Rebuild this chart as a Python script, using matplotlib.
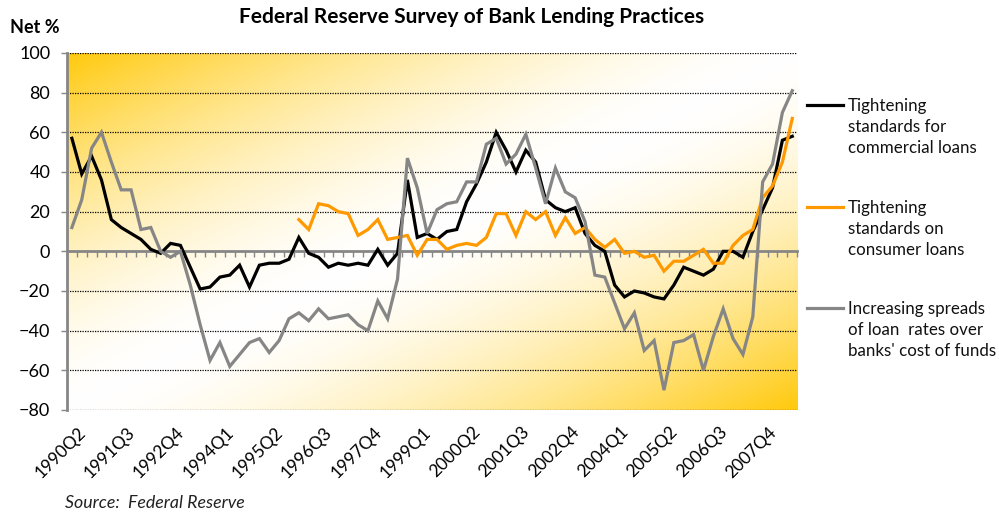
import numpy as np
import matplotlib
matplotlib.use('Agg')
import matplotlib.pyplot as plt
import matplotlib.transforms as mtransforms
from matplotlib.lines import Line2D

plt.rcParams['font.family'] = ['Lato', 'DejaVu Sans']

# quarterly survey readings, 1990Q2 .. 2008Q3 (net % of banks)
commercial = [57, 39, 48, 36, 16, 12, 9, 6, 1, -1, 4, 3, -8, -19, -18, -13, -12, -7,
              -18, -7, -6, -6, -4, 7, -1, -3, -8, -6, -7, -6, -7, 1, -7, -1, 36, 7,
              9, 6, 10, 11, 25, 34, 45, 60, 51, 40, 51, 45, 26, 22, 20, 22, 9, 3,
              0, -17, -23, -20, -21, -23, -24, -17, -8, -10, -12, -9, 0, 0, -3, 10,
              21, 32, 56, 58]
consumer = [None] * 23 + [16, 11, 24, 23, 20, 19, 8, 11, 16, 6, 7, 8, -2, 6, 6, 1, 3,
                          4, 3, 7, 19, 19, 8, 20, 16, 20, 8, 17, 9, 12, 6, 2, 6, -1, 0,
                          -3, -2, -10, -5, -5, -2, 1, -6, -6, 3, 8, 11, 27, 33, 45, 67]
spreads = [12, 26, 52, 60, 45, 31, 31, 11, 12, 0, -3, 0, -17, -37, -55, -46, -58, -52,
           -46, -44, -51, -45, -34, -31, -35, -29, -34, -33, -32, -37, -40, -25, -34,
           -14, 47, 32, 9, 21, 24, 25, 35, 35, 54, 57, 44, 49, 59, 42, 24, 42, 30, 27,
           15, -12, -13, -26, -39, -31, -50, -45, -70, -46, -45, -42, -60, -43, -29,
           -44, -52, -33, 35, 44, 70, 81]

tick_labels = ['1990Q2', '1991Q3', '1992Q4', '1994Q1', '1995Q2', '1996Q3', '1997Q4',
               '1999Q1', '2000Q2', '2001Q3', '2002Q4', '2004Q1', '2005Q2', '2006Q3',
               '2007Q4']

names = ['Tightening\nstandards for\ncommercial loans',
         'Tightening\nstandards on\nconsumer loans',
         'Increasing spreads\nof loan  rates over\nbanks\' cost of funds']
colors = ['#000000', '#FF9900', '#868686']

x = np.arange(len(commercial))
cons = np.array([np.nan if v is None else v for v in consumer], dtype=float)

fig = plt.figure(figsize=(9.99, 5.15), dpi=100)
ax = fig.add_axes([0.067, 0.2039, 0.731, 0.6932])

# diagonal gold -> white -> gold fill of the plot area
gy, gx = np.mgrid[0:1:200j, 0:1:400j]
t = (gx + gy) / 2
f = np.abs(2 * t - 1) ** 1.6
gold = np.array([1.0, 0.79, 0.05])
bg = 1 - f[..., None] * (1 - gold)
ax.imshow(bg, extent=[0, 1, 0, 1], transform=ax.transAxes, aspect='auto', zorder=0)

lw = 2.3
ax.plot(x, commercial, color=colors[0], lw=lw, zorder=3, solid_joinstyle='miter')
ax.plot(x, cons, color=colors[1], lw=lw, zorder=4, solid_joinstyle='miter')
ax.plot(x, spreads, color=colors[2], lw=lw, zorder=5, solid_joinstyle='miter')

ax.set_xlim(-0.5, len(commercial) - 0.5)
ax.set_ylim(-80, 100)
ax.set_yticks(np.arange(-80, 101, 20))
ax.tick_params(axis='y', labelsize=13, length=4, color='#868686', width=1, pad=8)
for g in np.arange(-80, 101, 20):
    if g != 0:
        ax.axhline(g, color='black', lw=0.9, ls=(0, (1, 1)), zorder=1)

for s in ['top', 'right']:
    ax.spines[s].set_visible(False)
ax.spines['left'].set_color('#868686')
ax.spines['left'].set_linewidth(2)
ax.spines['bottom'].set_position(('data', 0))
ax.spines['bottom'].set_color('#868686')
ax.spines['bottom'].set_linewidth(2)
ax.spines['bottom'].set_zorder(2)
ax.set_xticks(np.arange(-0.5, len(commercial), 1.0))
ax.tick_params(axis='x', length=4, color='#868686', width=1, labelbottom=False)

# category labels along the bottom edge
sec = ax.secondary_xaxis('bottom')
sec.spines['bottom'].set_visible(False)
sec.set_xticks(np.arange(0, len(commercial), 5))
sec.set_xticklabels(tick_labels)
sec.tick_params(length=0, pad=10, labelsize=12.5)
shift = mtransforms.ScaledTranslation(4 / 72, 0, fig.dpi_scale_trans)
for lab in sec.get_xticklabels():
    lab.set_rotation(45)
    lab.set_ha('right')
    lab.set_rotation_mode('anchor')
    lab.set_transform(lab.get_transform() + shift)

fig.text(0.472, 0.967, 'Federal Reserve Survey of Bank Lending Practices',
         ha='center', va='center', fontsize=15, fontweight='bold')
fig.text(0.010, 0.947, 'Net %', ha='left', va='center', fontsize=13, fontweight='bold')
fig.text(0.065, 0.023, 'Source:  Federal Reserve', ha='left', va='center',
         fontsize=12.8, style='italic', color='#222222')

# legend on the right, handle level with the first text line
W, H = 999, 515
for name, c, yp in zip(names, colors, [105, 207, 308]):
    fig.add_artist(Line2D([807 / W, 843 / W], [1 - yp / H, 1 - yp / H],
                          color=c, lw=2.3, transform=fig.transFigure))
    fig.text(848 / W, 1 - (yp - 7) / H, name, ha='left', va='top',
             fontsize=12.2, linespacing=1.38, color='#111111')

fig.savefig('out.png', dpi=100)
